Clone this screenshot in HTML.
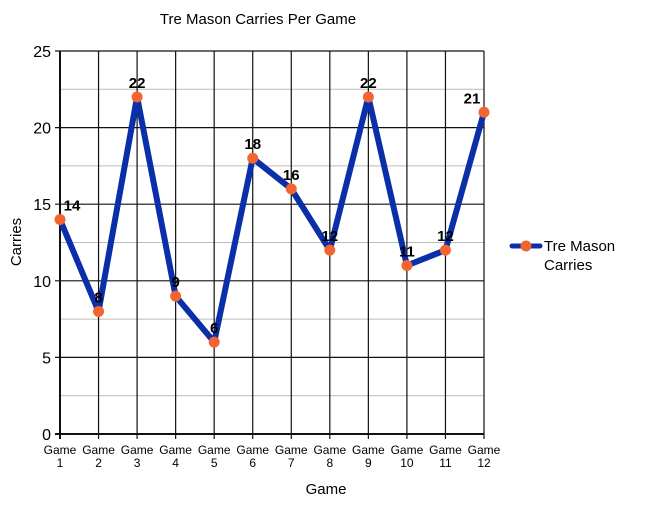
<!DOCTYPE html>
<html><head><meta charset="utf-8"><style>
body{margin:0;background:#fff;font-family:"Liberation Sans",Arial,sans-serif;}
svg text{font-family:"Liberation Sans",Arial,sans-serif;}
</style></head><body>
<svg id="chart" width="649" height="501" viewBox="0 0 649 501">
<text x="258" y="24" text-anchor="middle" font-size="15">Tre Mason Carries Per Game</text>
<g id="grid"></g>
<g id="series"></g>
<text x="326" y="494" text-anchor="middle" font-size="15">Game</text>
<text transform="translate(21,242) rotate(-90)" text-anchor="middle" font-size="15">Carries</text>
<g>
<line x1="512" y1="246" x2="540" y2="246" stroke="#0a2fa8" stroke-width="5" stroke-linecap="round"/>
<circle cx="526" cy="246" r="5.5" fill="#f26531"/>
<text x="544" y="251" font-size="15">Tre Mason</text>
<text x="544" y="270" font-size="15">Carries</text>
</g>
</svg>
<script>
const categories=["Game 1","Game 2","Game 3","Game 4","Game 5","Game 6","Game 7","Game 8","Game 9","Game 10","Game 11","Game 12"];
const carries=[14,8,22,9,6,18,16,12,22,11,12,21];
const yTicks=[0,5,10,15,20,25];
const NS="http://www.w3.org/2000/svg";
const x0=60,x1=484,y0=434,y1=51,yMax=25;
const xs=i=>x0+i*(x1-x0)/(categories.length-1);
const ys=v=>y0-(v/yMax)*(y0-y1);
function mk(t,a,p){const e=document.createElementNS(NS,t);for(const k in a)e.setAttribute(k,a[k]);(p||document.getElementById('grid')).appendChild(e);return e;}
for(let v=2.5;v<yMax;v+=5){const l=mk('line',{x1:x0,x2:x1,y1:ys(v),y2:ys(v),stroke:'#bbb','stroke-width':1});

}
yTicks.forEach(v=>{const l=mk('line',{x1:x0-5,x2:x1,y1:ys(v),y2:ys(v),stroke:'#111','stroke-width':v===0?2:1.2});


const t=mk('text',{x:x0-9,y:ys(v)+6,'text-anchor':'end','font-size':16});t.textContent=v;

});
categories.forEach((c,i)=>{const x=xs(i);const l=mk('line',{x1:x,x2:x,y1:y1,y2:y0+5,stroke:'#111','stroke-width':i===0?2:1.2});


const p=c.split(' ');
const t=mk('text',{x:x,y:y0+20,'text-anchor':'middle','font-size':12});t.textContent=p[0];


const t2=mk('text',{x:x,y:y0+33,'text-anchor':'middle','font-size':12});t2.textContent=p[1];

});
const s=document.getElementById('series');
const line=mk('polyline',{points:carries.map((v,i)=>xs(i)+','+ys(v)).join(' '),fill:'none',stroke:'#0a2fa8','stroke-width':6,'stroke-linejoin':'round'},s);


carries.forEach((v,i)=>{const c=mk('circle',{cx:xs(i),cy:ys(v),r:5.5,fill:'#f26531'},s);


const dx=(i===0)?12:(i===11?-12:0);
const t=mk('text',{x:xs(i)+dx,y:ys(v)-9,'text-anchor':'middle','font-size':15,'font-weight':'bold'},s);t.textContent=v;

});
</script>
</body></html>
